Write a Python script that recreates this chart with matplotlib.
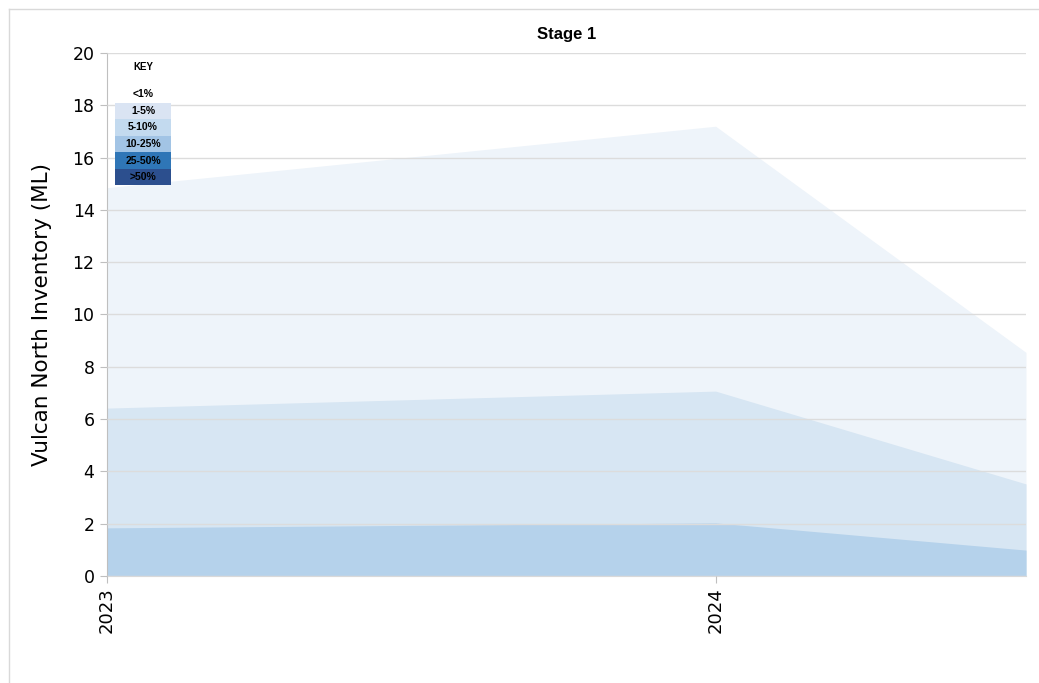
import matplotlib.pyplot as plt
import matplotlib.patches as mpatches
import matplotlib.lines as mlines

# data (ML)
years = [2023, 2024, 2024.51]
lt1_level = [14.85, 17.2, 8.55]   # outer band
b1_5_level = [6.42, 7.07, 3.52]
b5_10_level = [1.84, 2.03, 0.99]
tick_years = [2023, 2024]

key_labels = ['<1%', '1-5%', '5-10%', '10-25%', '25-50%', '>50%']
key_colors = ['#FFFFFF', '#DAE4F3', '#C3DAEF', '#A2C4E5', '#2F76B7', '#2C4F8E']

fig = plt.figure(figsize=(10.39, 6.83), dpi=100)
ax = fig.add_axes([0.103, 0.1567, 0.8845, 0.7657])

ax.fill_between(years, 0, lt1_level, color='#EEF4FA', lw=0, zorder=1)
ax.fill_between(years, 0, b1_5_level, color='#D7E6F3', lw=0, zorder=1)
ax.fill_between(years, 0, b5_10_level, color='#B5D2EB', lw=0, zorder=1)

ax.set_xlim(2023, 2024.51)
ax.set_ylim(0, 20)
ax.set_yticks(range(0, 21, 2))
ax.set_xticks(tick_years)
ax.set_xticklabels([str(y) for y in tick_years], rotation=90, fontsize=13)
ax.tick_params(axis='y', labelsize=12.5, length=5, color='#BFBFBF', pad=4)
ax.tick_params(axis='x', length=5, color='#BFBFBF', pad=3)
ax.grid(axis='y', color='#DCDCDC', lw=1, zorder=2)
ax.set_axisbelow(False)
for s in ['top', 'right']:
    ax.spines[s].set_visible(False)
ax.spines['left'].set_color('#BFBFBF')
ax.spines['bottom'].set_color('#D9D9D9')
ax.set_ylabel('Vulcan North Inventory (ML)', fontsize=15.5, labelpad=15)
ax.set_title('Stage 1', fontsize=12, fontweight='bold', family='Liberation Sans', pad=10)

# key box
x0, x1 = 0.0087, 0.0696
row_h = 0.0316
top = 0.905 + row_h
ax.text((x0 + x1) / 2, 0.973, 'KEY', transform=ax.transAxes, ha='center', va='center',
        fontsize=7, fontweight='bold', family='Liberation Sans', zorder=5)
for i, (lab, col) in enumerate(zip(key_labels, key_colors)):
    y = top - (i + 1) * row_h
    ax.add_patch(mpatches.Rectangle((x0, y), x1 - x0, row_h, transform=ax.transAxes,
                                    facecolor=col, edgecolor='none', zorder=4))
    ax.text((x0 + x1) / 2, y + row_h / 2, lab, transform=ax.transAxes, ha='center',
            va='center', fontsize=7.5, fontweight='bold', family='Liberation Sans', zorder=5)

# outer frame of the chart area
fig.add_artist(mlines.Line2D([8.5 / 1039, 8.5 / 1039], [0, 1 - 8.5 / 683],
                             transform=fig.transFigure, color='#D9D9D9', lw=1))
fig.add_artist(mlines.Line2D([8.5 / 1039, 1], [1 - 8.5 / 683, 1 - 8.5 / 683],
                             transform=fig.transFigure, color='#D9D9D9', lw=1))

fig.savefig('out.png', dpi=100)
